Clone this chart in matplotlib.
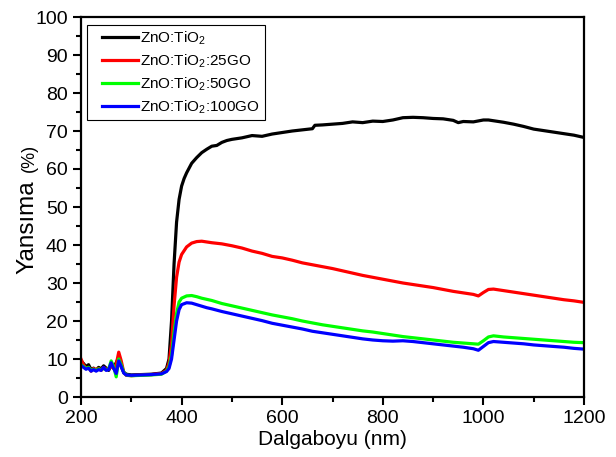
import matplotlib
matplotlib.use("Agg")
import matplotlib.pyplot as plt
from matplotlib.ticker import MultipleLocator
from matplotlib.patches import Rectangle

plt.rcParams['font.family'] = ['Liberation Sans', 'DejaVu Sans']
plt.rcParams['mathtext.fontset'] = 'custom'
plt.rcParams['mathtext.rm'] = 'Liberation Sans'

wl_low = [200, 205, 210, 215, 220, 225, 230, 235, 240, 245, 250, 255, 260, 265,
          270, 275, 280, 285, 290, 300, 320, 340, 360, 370, 375, 380, 385, 390, 395]

black_wl = wl_low + [400, 405, 410, 420, 430, 440, 450, 460, 470, 480, 490, 500, 520, 540,
                     560, 580, 600, 620, 640, 660, 665, 680, 700, 720, 740, 760, 780, 800,
                     820, 840, 860, 880, 900, 920, 940, 950, 960, 980, 1000, 1010, 1020,
                     1040, 1060, 1080, 1100, 1120, 1140, 1160, 1180, 1200]
black_val = [9.5, 8.8, 8.0, 8.5, 7.2, 7.6, 7.0, 7.8, 7.4, 8.2, 7.6, 7.0, 8.5, 8.0,
             9.0, 10.5, 8.0, 6.5, 6.0, 5.8, 5.9, 6.0, 6.3, 7.5, 10, 20, 35, 46, 52,
             55.5, 57.5, 59, 61.5, 63, 64.3, 65.2, 66, 66.2, 67, 67.5, 67.8, 68.2, 68.8,
             68.6, 69.2, 69.6, 70, 70.3, 70.6, 71.5, 71.6, 71.8, 72.0, 72.4, 72.2, 72.6, 72.5,
             72.9, 73.5, 73.6, 73.5, 73.3, 73.2, 72.8, 72.2, 72.5, 72.4, 72.9, 72.9, 72.7,
             72.3, 71.8, 71.2, 70.5, 70.1, 69.7, 69.3, 68.9, 68.3]

go_wl = wl_low + [400, 410, 420, 430, 440, 450, 460, 480, 500, 520, 540, 560, 580, 600,
                  620, 640, 660, 680, 700, 720, 740, 760, 780, 800, 820, 840, 860, 880,
                  900, 920, 940, 960, 980, 990, 1000, 1010, 1020, 1040, 1060, 1080, 1100,
                  1120, 1140, 1160, 1180, 1200]

red_val = [10, 8.5, 7.5, 7.8, 6.8, 7.5, 7.2, 7.5, 7.0, 7.8, 7.3, 7.5, 8.0, 7.5,
           8.5, 11.8, 9.5, 6.5, 5.7, 5.6, 5.8, 5.9, 6.2, 7.0, 9, 14, 24, 31.5, 35.5,
           37.5, 39.5, 40.5, 40.9, 41, 40.8, 40.6, 40.3, 39.8, 39.2, 38.4, 37.8, 37.0, 36.6,
           36.0, 35.3, 34.8, 34.3, 33.8, 33.2, 32.6, 32.0, 31.5, 31.0, 30.5, 30.0, 29.6, 29.2,
           28.8, 28.3, 27.8, 27.4, 27.0, 26.6, 27.5, 28.3, 28.4, 28.0, 27.6, 27.2, 26.8,
           26.4, 26.0, 25.6, 25.3, 24.9]

green_val = [8.5, 8.0, 7.5, 7.8, 7.0, 7.3, 7.0, 7.4, 7.2, 7.5, 7.2, 7.4, 9.5, 8.0,
             5.3, 10.0, 8.5, 6.5, 5.8, 5.6, 5.7, 5.8, 6.0, 6.8, 8, 11, 17, 22, 25,
             26, 26.6, 26.7, 26.4, 26.0, 25.7, 25.4, 24.6, 24.0, 23.4, 22.8, 22.2, 21.6, 21.1,
             20.6, 20.0, 19.5, 19.0, 18.6, 18.2, 17.8, 17.4, 17.1, 16.7, 16.3, 15.9, 15.6, 15.3,
             15.0, 14.7, 14.4, 14.2, 14.0, 13.9, 14.8, 15.8, 16.1, 15.8, 15.6, 15.4, 15.2,
             15.0, 14.8, 14.6, 14.4, 14.3]

blue_val = [8.3, 7.8, 7.3, 7.6, 6.8, 7.2, 6.8, 7.2, 7.0, 7.8, 7.0, 7.2, 9.0, 7.5,
            6.2, 9.5, 8.0, 6.3, 5.8, 5.7, 5.8, 5.9, 6.1, 6.7, 7.5, 10, 15, 20, 23,
            24.3, 24.8, 24.7, 24.3, 23.9, 23.5, 23.2, 22.5, 21.9, 21.3, 20.7, 20.1, 19.4, 18.9,
            18.4, 17.9, 17.3, 16.9, 16.5, 16.1, 15.7, 15.3, 15.0, 14.8, 14.7, 14.8, 14.6, 14.3,
            14.0, 13.7, 13.4, 13.1, 12.7, 12.3, 13.3, 14.3, 14.6, 14.4, 14.2, 14.0, 13.7,
            13.5, 13.3, 13.1, 12.8, 12.6]

labels = ['ZnO:TiO$_\\mathregular{2}$', 'ZnO:TiO$_\\mathregular{2}$:25GO',
          'ZnO:TiO$_\\mathregular{2}$:50GO', 'ZnO:TiO$_\\mathregular{2}$:100GO']

W, H = 616, 457
fig = plt.figure(figsize=(W / 100, H / 100), dpi=100)
ax = fig.add_axes([81 / W, 1 - 397 / H, 503 / W, 380 / H])

lw = 2.3
ax.plot(black_wl, black_val, color='black', lw=lw, label=labels[0])
ax.plot(go_wl, red_val, color='#ff0000', lw=lw, label=labels[1])
ax.plot(go_wl, green_val, color='#00ff00', lw=lw, label=labels[2])
ax.plot(go_wl, blue_val, color='#0000ff', lw=lw, label=labels[3])

ax.set_xlim(200, 1200)
ax.set_ylim(0, 100)
ax.xaxis.set_major_locator(MultipleLocator(200))
ax.xaxis.set_minor_locator(MultipleLocator(100))
ax.yaxis.set_major_locator(MultipleLocator(10))
ax.yaxis.set_minor_locator(MultipleLocator(5))
ax.tick_params(which='both', direction='out', top=False, right=False, width=1.5,
               labelsize=14)
ax.tick_params(which='major', length=6)
ax.tick_params(which='minor', length=3.5)
for s in ax.spines.values():
    s.set_linewidth(1.6)

ax.set_xlabel('Dalgaboyu (nm)', fontsize=15, labelpad=2)

# y label: large word + smaller unit, rotated
fig.text(33 / W, 1 - 274 / H, 'Yansıma', fontsize=17.5, rotation=90,
         rotation_mode='anchor', ha='left', va='baseline')
fig.text(34 / W, 1 - 172 / H, '(%)', fontsize=13, rotation=90,
         rotation_mode='anchor', ha='left', va='baseline')

# legend frame
ax.add_patch(Rectangle((87 / W, 1 - 120 / H), (265 - 87) / W, (120 - 25) / H,
                       transform=fig.transFigure, fill=True, facecolor='white',
                       edgecolor='black', lw=0.8, zorder=4))
leg = ax.legend(loc='upper left',
                bbox_to_anchor=(101.5 / W, 1 - 29 / H), bbox_transform=fig.transFigure,
                fontsize=11, frameon=False, handlelength=2.4, handletextpad=0.12,
                borderpad=0, labelspacing=0.35, borderaxespad=0)
leg.set_zorder(5)

fig.savefig('out.png', dpi=100)
